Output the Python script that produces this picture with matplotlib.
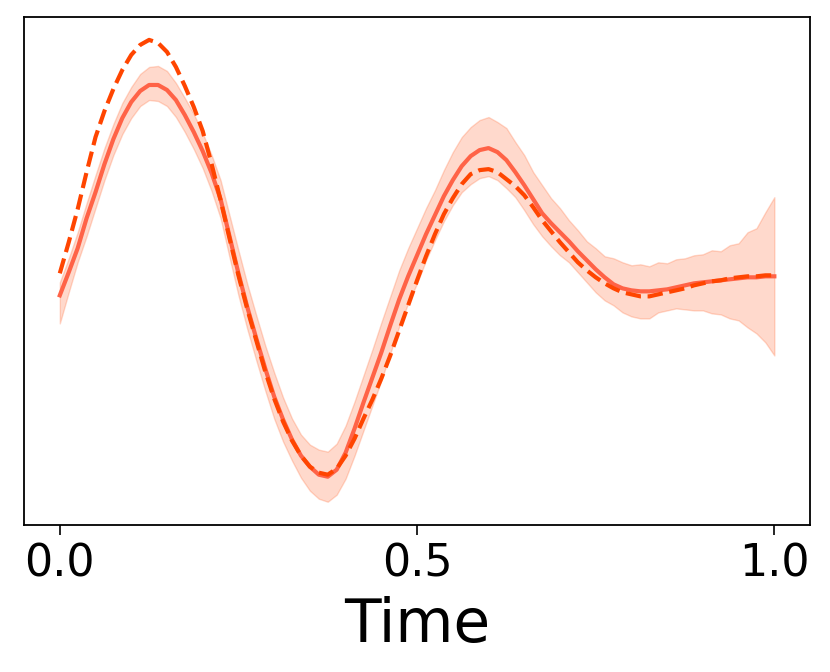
import numpy as np
import matplotlib
matplotlib.use('Agg')
import matplotlib.pyplot as plt

# values in arbitrary units (y axis is unlabelled)
time = np.linspace(0, 1, 81)

truth = [27, 58, 91, 128, 163, 189, 211, 230, 245, 255,
         260, 257, 248, 233, 214, 193, 169, 136, 100, 62,
         25, -9, -40, -71, -98, -121, -140, -155, -166, -172,
         -174, -168, -155, -138, -118, -99, -78, -55, -30, -5,
         20, 44, 66, 86, 102, 116, 126, 130, 131, 128,
         121, 114, 105, 93, 80, 69, 58, 48, 38, 30,
         23, 17, 12, 8, 6, 4, 4, 6, 8, 10,
         12, 15, 17, 19, 20, 22, 23, 24, 24, 25,
         25]

mean = [5, 28, 52, 82, 108, 136, 161, 182, 198, 209,
        215, 215, 210, 200, 185, 168, 149, 127, 101, 64,
        27, -7, -38, -68, -96, -119, -139, -155, -166, -174,
        -176, -169, -152, -128, -102, -77, -52, -25, 1, 24,
        45, 66, 85, 104, 120, 134, 144, 150, 152, 148,
        140, 128, 115, 101, 87, 77, 68, 59, 49, 40,
        31, 23, 16, 12, 10, 9, 9, 10, 11, 13,
        15, 17, 18, 19, 20, 21, 22, 23, 23, 24,
        24]

upper = [18, 42, 68, 97, 125, 152, 176, 197, 213, 226,
         233, 234, 229, 217, 202, 186, 167, 145, 120, 85,
         50, 16, -15, -45, -72, -97, -118, -134, -144, -149,
         -151, -143, -125, -101, -75, -49, -22, 4, 30, 52,
         72, 92, 110, 130, 148, 163, 173, 180, 183, 178,
         172, 158, 145, 128, 115, 102, 92, 80, 70, 59,
         52, 44, 42, 38, 35, 36, 34, 38, 37, 41,
         42, 45, 46, 50, 49, 55, 57, 68, 72, 88,
         103]

lower = [-23, 8, 38, 64, 92, 120, 145, 166, 182, 194,
         200, 199, 194, 183, 168, 151, 132, 109, 82, 43,
         5, -29, -60, -90, -118, -141, -160, -177, -190, -198,
         -201, -194, -178, -155, -130, -105, -80, -53, -26, -3,
         17, 40, 60, 79, 95, 108, 116, 122, 124, 120,
         112, 103, 90, 76, 64, 54, 45, 38, 28, 18,
         8, 0, -5, -12, -16, -18, -18, -12, -10, -8,
         -9, -10, -10, -13, -14, -18, -20, -27, -33, -42,
         -55]

fig = plt.figure(figsize=(8.3, 6.72), dpi=100)
ax = fig.add_axes([0.029, 0.219, 0.947, 0.756])

ax.fill_between(time, lower, upper, color='orangered', alpha=0.2)
ax.plot(time, mean, color='tomato', lw=3)
ax.plot(time, truth, color='orangered', lw=3, ls='--')

ax.set_xticks([0.0, 0.5, 1.0])
ax.set_xticklabels(['0.0', '0.5', '1.0'])
ax.set_yticks([])
ax.tick_params(axis='x', labelsize=32, length=7, width=1.2, pad=6)
ax.set_xlabel('Time', fontsize=43, labelpad=7)
for s in ax.spines.values():
    s.set_linewidth(1.3)

plt.savefig('out.png', dpi=100)
